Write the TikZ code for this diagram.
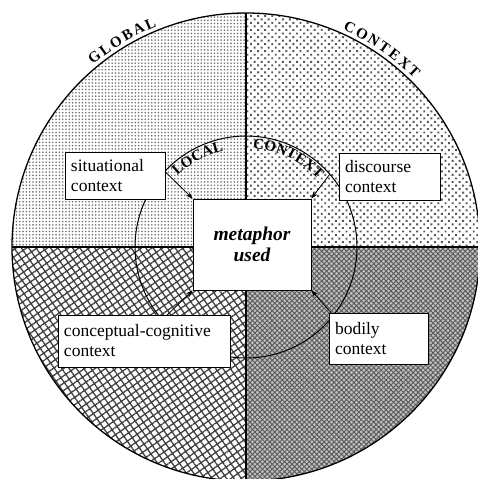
\documentclass[tikz,border=0pt]{standalone}
\usepackage{fontspec}
\setmainfont{Liberation Serif}
\usepackage{tikz}
\usetikzlibrary{arrows.meta, patterns.meta, decorations.text, positioning}

\newcommand{\ctxfont}{\fontsize{17.5}{20}\selectfont}
\newcommand{\arcfont}{\bfseries\fontsize{15}{15}\selectfont}
\newcommand{\usedfont}{\bfseries\itshape\fontsize{19.5}{21}\selectfont}

\tikzset{
  ctxbox/.style={draw, fill=white, line width=0.7pt, align=left, inner xsep=6pt, font=\ctxfont},
  divider/.style={line width=1.6pt},
  ctxarrow/.style={line width=0.8pt, -{Stealth[length=7pt, width=5pt]}},
}

\begin{document}
\begin{tikzpicture}[x=1pt, y=1pt]
\useasboundingbox (-246,-232) rectangle (231,247);

% quadrants
\path[pattern={Dots[distance=3.3pt, radius=0.9pt]}, pattern color=black!55]
  (0,0) -- (180:234) arc[start angle=180, end angle=90, radius=234] -- cycle;
\path[pattern={Dots[distance=5pt, angle=45, radius=1.35pt]}, pattern color=black!65]
  (0,0) -- (90:234) arc[start angle=90, end angle=0, radius=234] -- cycle;
\path[pattern={Hatch[distance=6pt, angle=35, line width=1.3pt]}, pattern color=black!75]
  (0,0) -- (180:234) arc[start angle=180, end angle=270, radius=234] -- cycle;
\path[preaction={fill=gray!50}, pattern={Hatch[distance=3.5pt, angle=45, line width=0.9pt]}, pattern color=black!65]
  (0,0) -- (270:234) arc[start angle=270, end angle=360, radius=234] -- cycle;

\draw[divider] (180:234) -- (0:234);
\draw[divider] (90:234) -- (270:234);
\draw[line width=1.3pt] (0,0) circle[radius=234];
\draw[line width=1pt] (0,0) circle[radius=111];

% -------

\node[ctxbox, align=center, font=\usedfont, minimum width=118pt, minimum height=91pt, inner sep=0pt]
  (metaphor) at (6,2.5) {metaphor\\used};

\coordinate (sitend) at (137:111);
\coordinate (disend) at (41:111);
\coordinate (conend) at (221:111);
\coordinate (bodend) at (322:111);

\draw[ctxarrow] (sitend) -- (metaphor.north west);
\draw[ctxarrow] (disend) -- (metaphor.north east);
\draw[ctxarrow] (conend) -- (metaphor.south west);
\draw[ctxarrow] (bodend) -- (metaphor.south east);

\node[ctxbox, text width=88pt, minimum height=47pt] (situational) at (-131,71.5) {situational\\context};
\node[ctxbox, text width=89pt, minimum height=47pt] (discourse) at (143.5,70.5) {discourse\\context};
\node[ctxbox, text width=160pt, minimum height=52pt] (conceptual) at (-102,-94) {conceptual-cognitive\\context};
\node[ctxbox, text width=87pt, minimum height=51pt] (bodily) at (132.5,-91.5) {bodily\\context};

% -------

\path[decorate, decoration={text along path, text align=fit to path, text={|\arcfont|GLOBAL}}]
  (130:238) arc[start angle=130, end angle=112, radius=238];
\path[decorate, decoration={text along path, text align=fit to path, text={|\arcfont|CONTEXT}}]
  (66:238) arc[start angle=66, end angle=45, radius=238];
\path[decorate, decoration={text along path, text align=fit to path, text={|\arcfont|LOCAL}}]
  (134:99) arc[start angle=134, end angle=103, radius=99];
\path[decorate, decoration={text along path, text align=fit to path, text={|\arcfont|CONTEXT}}]
  (86:99) arc[start angle=86, end angle=45, radius=99];

\end{tikzpicture}
\end{document}
